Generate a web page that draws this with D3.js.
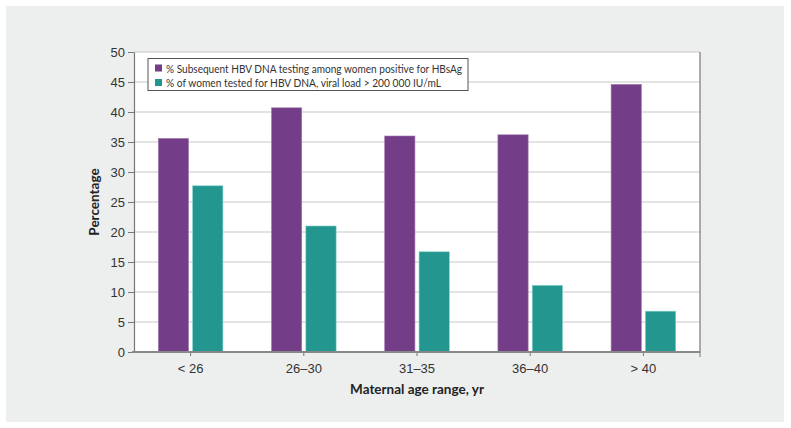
<!DOCTYPE html>
<html><head><meta charset="utf-8">
<script src="https://cdn.jsdelivr.net/npm/d3@7"></script>
<style>body{margin:0;background:#fff;}svg{display:block;font-family:Lato,"Noto Sans",sans-serif;}</style>
</head><body><svg id="c" width="791" height="428"></svg>
<script>
const categories = ["< 26", "26–30", "31–35", "36–40", "> 40"];
const seriesNames = ["% Subsequent HBV DNA testing among women positive for HBsAg", "% of women tested for HBV DNA, viral load > 200 000 IU/mL"];
const subsequentTesting = [35.6, 40.7, 36.0, 36.2, 44.6];
const viralLoadHigh = [27.7, 21.0, 16.7, 11.1, 6.8];
const yTicks = [0, 5, 10, 15, 20, 25, 30, 35, 40, 45, 50];
const colors = ["#733d87", "#23968f"];
const legendWidths = [296, 275];

const svg = d3.select("#c");
svg.append("rect").attr("x",6).attr("y",6).attr("width",778).attr("height",416).attr("fill","#edefee");
const m = {l:134, r:700, t:52, b:352};
const x = d3.scaleBand().domain(categories).range([m.l, m.r]);
const y = d3.scaleLinear().domain([0,50]).range([m.b, m.t]);
const x1 = d3.scaleBand().domain([0,1]).range([0, 64.6]).paddingInner(0.12);

svg.append("rect").attr("x",m.l).attr("y",m.t).attr("width",m.r-m.l).attr("height",m.b-m.t).attr("fill","#fff");
svg.append("g").selectAll("line").data(yTicks.filter(d=>d>0)).join("line")
  .attr("x1",m.l).attr("x2",m.r).attr("y1",d=>y(d)).attr("y2",d=>y(d))
  .attr("stroke","#c8c8c8").attr("stroke-width",1.2);

const data = categories.map((c,i)=>({c, v:[subsequentTesting[i], viralLoadHigh[i]]}));
const g = svg.append("g");
data.forEach(d=>{
  const cx = x(d.c) + x.bandwidth()/2 - 32.3;
  g.selectAll(null).data(d.v).join("rect")
    .attr("x",(v,j)=>cx + x1(j)).attr("width",x1.bandwidth())
    .attr("y",v=>y(v)).attr("height",v=>m.b-y(v))
    .attr("fill",(v,j)=>colors[j])
    .attr("stroke",(v,j)=>j?"#7fd0c8":"#a07ab0").attr("stroke-width",0.6);
});

const ya = d3.axisLeft(y).tickValues(yTicks).tickSize(6).tickSizeOuter(0).tickPadding(3);
const yg = svg.append("g").attr("transform",`translate(${m.l},0)`).call(ya);
yg.select(".domain").attr("stroke","#777").attr("stroke-width",1.2);
yg.selectAll(".tick line").attr("stroke","#777");
yg.selectAll("text").attr("font-size",13).attr("fill","#333");
svg.append("line").attr("x1",m.r).attr("x2",m.r).attr("y1",m.t).attr("y2",m.b).attr("stroke","#777").attr("stroke-width",1.2);

const xa = d3.axisBottom(x).tickSize(4).tickSizeOuter(0).tickPadding(8);
const xg = svg.append("g").attr("transform",`translate(0,${m.b})`).call(xa);
xg.select(".domain").remove();
xg.selectAll(".tick line").attr("stroke","#777");
xg.selectAll("text").attr("font-size",13).attr("fill","#333");
svg.append("line").attr("x1",m.l-2).attr("x2",m.r).attr("y1",m.b).attr("y2",m.b).attr("stroke","#888").attr("stroke-width",2);
svg.append("line").attr("x1",m.r).attr("x2",m.r).attr("y1",m.b).attr("y2",m.b+5).attr("stroke","#777");

svg.append("text").attr("x",(m.l+m.r)/2).attr("y",394).attr("text-anchor","middle")
  .attr("font-weight","bold").attr("font-size",13.5).attr("fill","#222").text("Maternal age range, yr");
svg.append("text").attr("transform",`translate(99,${(m.t+m.b)/2}) rotate(-90)`).attr("text-anchor","middle")
  .attr("font-weight","bold").attr("font-size",13.5).attr("fill","#222").text("Percentage");

const lg = svg.append("g");
lg.append("rect").attr("x",148).attr("y",58.5).attr("width",320).attr("height",32).attr("fill","#fff").attr("stroke","#555").attr("stroke-width",1);
seriesNames.forEach((s,i)=>{
  lg.append("rect").attr("x",155).attr("y",64.5+i*14.5).attr("width",7).attr("height",7).attr("fill",colors[i]);
  lg.append("text").attr("x",166).attr("y",72.8+i*14.5).attr("font-size",12.2).attr("fill","#333")
    .attr("textLength",legendWidths[i]).attr("lengthAdjust","spacingAndGlyphs").text(s);
});
</script></body></html>
